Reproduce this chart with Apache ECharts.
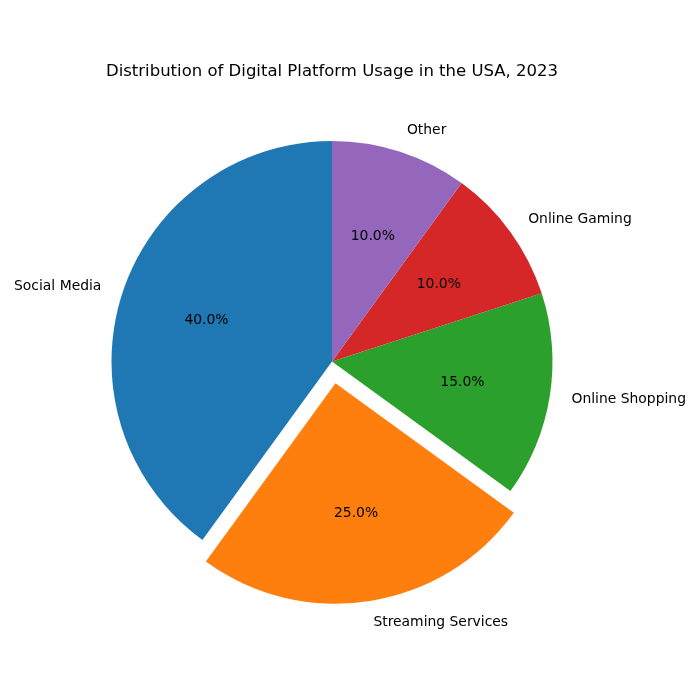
<!DOCTYPE html>
<html>
<head>
<meta charset="utf-8">
<script src="https://cdn.jsdelivr.net/npm/echarts@6/dist/echarts.min.js"></script>
<style>html,body{margin:0;padding:0;background:#fff}#c{width:700px;height:700px}</style>
</head>
<body>
<div id="c"></div>
<script>
const categories = ['Social Media', 'Streaming Services', 'Online Shopping', 'Online Gaming', 'Other'];
const values = [40, 25, 15, 10, 10];
const explode = [false, true, false, false, false];
const colors = ['#1f77b4', '#ff7f0e', '#2ca02c', '#d62728', '#9467bd'];
const titleText = 'Distribution of Digital Platform Usage in the USA, 2023';

const FONT = 'DejaVu Sans';
const R = 220.5;
const CX = 332, CY = 361.5;

const mainData = categories.map((c, i) => ({
  name: c, value: values[i], selected: explode[i],
  itemStyle: { color: colors[i] }
}));
const pctData = categories.map((c, i) => ({
  name: c, value: values[i], selected: explode[i],
  itemStyle: { color: 'rgba(0,0,0,0)' }
}));

const chart = echarts.init(document.getElementById('c'), null, { renderer: 'canvas' });
chart.setOption({
  animation: false,
  backgroundColor: '#fff',
  graphic: [{
    type: 'text', x: CX, y: 72,
    style: { text: titleText, font: '16.5px "' + FONT + '"', fill: '#000', align: 'center', verticalAlign: 'middle' }
  }],
  series: [
    {
      type: 'pie', center: [CX, CY], radius: [0, R],
      startAngle: 90, clockwise: false,
      selectedMode: 'multiple', selectedOffset: 22,
      avoidLabelOverlap: false, silent: true,
      itemStyle: { borderWidth: 0 },
      label: {
        show: true, position: 'outside', alignTo: 'none',
        distanceToLabelLine: 0,
        color: '#000', fontFamily: FONT, fontSize: 13.9,
        formatter: p => p.name
      },
      labelLine: { show: false, length: 22, length2: 0 },
      emphasis: { disabled: true },
      data: mainData
    },
    {
      type: 'pie', center: [CX, CY], radius: [0, 258],
      startAngle: 90, clockwise: false,
      selectedMode: 'multiple', selectedOffset: 22,
      avoidLabelOverlap: false, silent: true,
      itemStyle: { borderWidth: 0 },
      label: {
        show: true, position: 'inside',
        color: '#000', fontFamily: FONT, fontSize: 13.9,
        formatter: p => p.value.toFixed(1) + '%'
      },
      labelLine: { show: false },
      emphasis: { disabled: true },
      data: pctData
    }
  ]
});
</script>
</body>
</html>
